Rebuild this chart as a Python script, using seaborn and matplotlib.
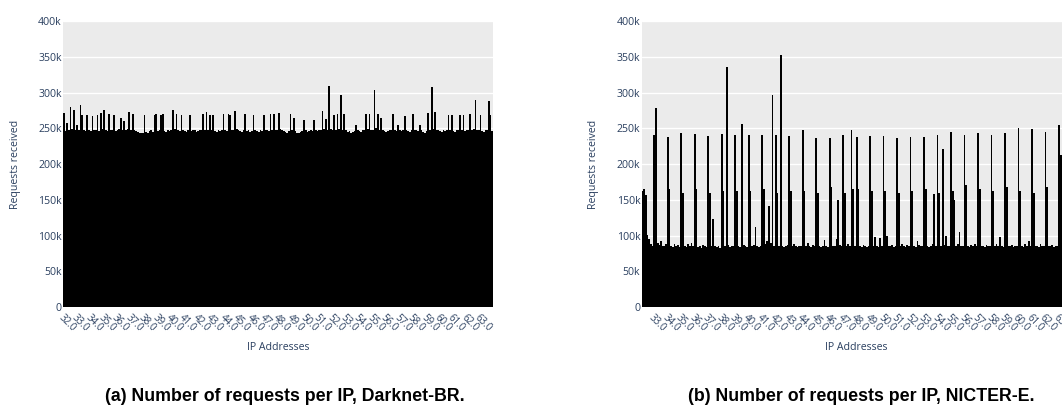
"""
Requests per IP address for two darknets (Darknet-BR, NICTER-E).
One bar per 32 addresses of the x.x.32.0/19 block, values in thousands.
"""

import matplotlib

matplotlib.use("Agg")
import matplotlib.pyplot as plt
import pandas as pd
import seaborn as sns

OUT = "out.png"

TEXT_COLOR = "#2a3f5f"
PLOT_BG    = "#ebebeb"
TICK_SIZE  = 7.6
XTICK_SIZE = 7.0

# last two octets, one bar per 32 addresses
IP_LABELS = [f"{hi}.{lo}" for hi in range(32, 64) for lo in range(0, 256, 32)]

Y_TICKS  = [0, 50, 100, 150, 200, 250, 300, 350, 400]
Y_LABELS = ["0", "50k", "100k", "150k", "200k", "250k", "300k", "350k", "400k"]

# requests received (thousands), Darknet-BR, from 32.0
DARKNET_BR_K = [
    271, 246, 257, 247, 280, 249, 276, 248, 255, 247, 282, 268, 248, 246, 268, 247,
    246, 267, 247, 248, 268, 246, 272, 249, 275, 247, 246, 270, 248, 247, 268, 246,
    247, 249, 265, 248, 260, 247, 249, 273, 248, 270, 247, 246, 245, 244, 243, 244,
    268, 245, 244, 246, 247, 245, 268, 270, 246, 247, 268, 270, 246, 245, 247, 246,
    248, 275, 249, 270, 247, 246, 268, 248, 246, 245, 247, 268, 246, 248, 247, 245,
    246, 247, 248, 270, 247, 273, 248, 268, 247, 268, 246, 245, 247, 246, 248, 270,
    247, 246, 270, 268, 247, 248, 274, 249, 247, 246, 245, 247, 270, 246, 247, 245,
    246, 268, 247, 246, 245, 247, 246, 268, 247, 248, 246, 270, 247, 270, 248, 247,
    271, 249, 247, 246, 245, 244, 246, 270, 247, 265, 246, 244, 243, 245, 246, 262,
    247, 245, 246, 247, 246, 262, 247, 246, 248, 247, 274, 249, 263, 248, 309, 249,
    247, 268, 248, 270, 249, 297, 248, 270, 247, 245, 246, 244, 245, 246, 255, 247,
    246, 245, 247, 248, 270, 249, 270, 247, 248, 304, 250, 270, 248, 265, 247, 246,
    245, 246, 247, 248, 270, 247, 246, 255, 247, 246, 248, 267, 247, 246, 245, 247,
    270, 248, 247, 246, 255, 247, 245, 244, 246, 272, 248, 308, 249, 273, 248, 247,
    246, 245, 247, 246, 248, 268, 247, 268, 246, 245, 247, 248, 268, 247, 268, 246,
    247, 248, 270, 247, 249, 290, 248, 247, 268, 246, 245, 247, 248, 288, 268, 246,
]

# requests received (thousands), NICTER-E, from 32.32
NICTER_E_K = [
    162, 165, 157, 101,  95,  88,  86, 240, 279,  90,  87,  92,  86,  85,  88, 238,
    165,  86,  84,  88,  85,  87,  84, 243, 160,  85,  84,  88,  86,  90,  85, 242,
    165,  84,  86,  83,  87,  85,  84, 239, 160,  86, 123,  85,  84,  86,  83, 242,
    162,  85, 335,  87,  84,  86,  85, 240, 162,  86,  84, 256,  87,  85,  84, 240,
    162,  85,  87, 112,  86,  84,  85, 241, 165,  88,  92, 141,  90, 296,  86, 240,
    160,  85, 352,  86,  84,  85,  87, 239, 162,  86,  88,  85,  84,  86,  85, 247,
    162,  86,  90,  85,  84,  87,  86, 237, 160,  85,  84,  86,  94,  85,  84, 237,
    168,  86,  85,  95, 149,  87,  86, 240, 160,  85,  88,  86, 247, 165,  86, 238,
    165,  86,  84,  87,  85,  84,  86, 239, 162,  85,  98,  86,  84,  97,  85, 239,
    162, 100,  86,  85,  87,  84,  86, 237, 160,  85,  88,  86,  84,  87,  85, 238,
    162,  86,  84,  92,  87,  85,  86, 238, 165,  85,  84,  86,  88, 158,  85, 241,
    160,  86, 221,  87, 100,  86,  85, 245, 162, 149,  86,  88, 105,  86,  85, 240,
    170,  86,  84,  87,  85,  88,  86, 244, 165,  85,  86,  84,  87,  85,  86, 240,
    162,  85,  88,  86,  98,  85,  84, 243, 168,  86,  85,  87,  84,  86,  85, 251,
    162,  86,  84,  88,  85,  92,  86, 249, 160,  85,  86,  84,  88,  85,  86, 245,
    168,  86,  85,  87,  84,  86,  85, 255, 213,  86,  85,  87,  84,  86,  85,
]

PANELS = [
    # (values, first label index, axes rect in figure fractions, caption, caption x)
    (DARKNET_BR_K, 0, [0.0593, 0.2457, 0.4049, 0.7027],
     "(a) Number of requests per IP, Darknet-BR.", 0.268),
    (NICTER_E_K, 1, [0.6042, 0.2457, 0.4049, 0.7027],
     "(b) Number of requests per IP, NICTER-E.", 0.811),
]


def draw_panel(fig, values, start, rect, caption, cap_x):
    labels = IP_LABELS[start:start + len(values)]
    df = pd.DataFrame({"ip": labels, "requests_k": values})

    ax = fig.add_axes(rect)
    ax.set_facecolor(PLOT_BG)
    sns.barplot(
        data=df, x="ip", y="requests_k", order=labels,
        color="black", saturation=1, width=1.0, errorbar=None,
        linewidth=0, ax=ax,
    )
    # crisp bars: no hairline gaps between neighbours
    for p in ax.patches:
        p.set_antialiased(False)

    ax.set_xlim(-0.5, len(values) - 0.5)
    ax.set_ylim(0, 400)
    ax.set_yticks(Y_TICKS, Y_LABELS)

    pos = [i for i, lab in enumerate(labels) if lab.endswith(".0")]
    ax.set_xticks(pos, [labels[i] for i in pos])
    for t in ax.get_xticklabels():
        t.set_rotation(-45)
        t.set_rotation_mode("anchor")
        t.set_ha("left")
        t.set_va("top")
        t.set_fontsize(XTICK_SIZE)

    ax.tick_params(axis="both", length=0, colors=TEXT_COLOR)
    ax.tick_params(axis="y", labelsize=TICK_SIZE, pad=1)
    ax.tick_params(axis="x", pad=4)
    ax.grid(axis="y", color="white", linewidth=1.0)
    ax.grid(axis="x", visible=False)
    ax.set_axisbelow(True)
    for s in ax.spines.values():
        s.set_visible(False)

    ax.set_xlabel("IP Addresses", fontsize=TICK_SIZE, color=TEXT_COLOR, va="center")
    ax.set_ylabel("Requests received", fontsize=TICK_SIZE, color=TEXT_COLOR, va="center")
    ax.xaxis.set_label_coords(0.5, -0.143)
    ax.yaxis.set_label_coords(-0.111, 0.5)

    fig.text(cap_x, 0.0246, caption, ha="center", va="center",
             fontsize=12.8, fontweight="bold", color="black",
             family=["Liberation Sans", "DejaVu Sans"])
    return ax


def main() -> None:
    sns.set_theme(style="white")
    plt.rcParams["font.family"] = ["Open Sans", "DejaVu Sans"]

    fig = plt.figure(figsize=(10.62, 4.07), dpi=100)
    for values, start, rect, caption, cap_x in PANELS:
        draw_panel(fig, values, start, rect, caption, cap_x)

    fig.savefig(OUT, dpi=100, facecolor="white")
    plt.close(fig)


if __name__ == "__main__":
    main()
